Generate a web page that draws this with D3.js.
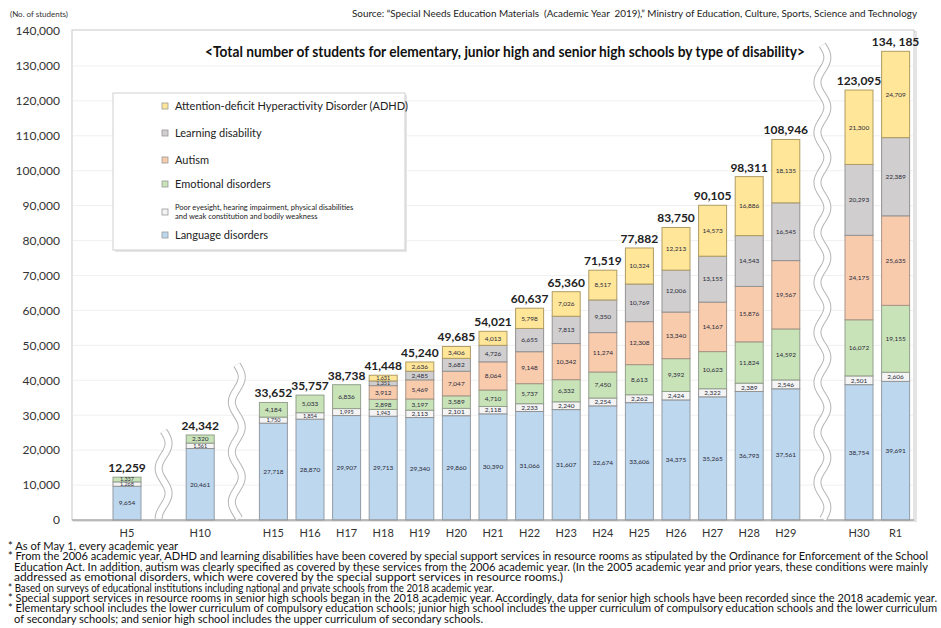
<!DOCTYPE html>
<html><head><meta charset="utf-8">
<script src="https://cdn.jsdelivr.net/npm/d3@7"></script>
<style>body{margin:0;background:#fff} svg{display:block;font-family:Lato,"Open Sans",sans-serif} text{white-space:pre}</style>
</head><body><svg id="c" width="941" height="628"></svg>
<script>
// ---------- data ----------
const years = ["H5","H10","H15","H16","H17","H18","H19","H20","H21","H22","H23","H24","H25","H26","H27","H28","H29","H30","R1"];
const language  = [9654,20461,27718,28870,29907,29713,29340,29860,30390,31066,31607,32674,33606,34375,35265,36793,37561,38754,39691];
const eyesight  = [1268,1561,1750,1854,1995,1943,2113,2101,2118,2233,2240,2254,2262,2424,2322,2389,2546,2501,2606];
const emotional = [1337,2320,4184,5033,6836,2898,3197,3589,4710,5737,6332,7450,8613,9392,10623,11824,14592,16072,19155];
const autism    = [null,null,null,null,null,3912,5469,7047,8064,9148,10342,11274,12308,13340,14167,15876,19567,24175,25635];
const learning  = [null,null,null,null,null,1351,2485,3682,4726,6655,7813,9350,10769,12006,13155,14543,16545,20293,22389];
const adhd      = [null,null,null,null,null,1631,2636,3406,4013,5798,7026,8517,10324,12213,14573,16886,18135,21300,24709];
const totalLabels = ["12,259","24,342","33,652","35,757","38,738","41,448","45,240","49,685","54,021","60,637","65,360","71,519","77,882","83,750","90,105","98,311","108,946","123,095","134, 185"];
const yTicks = [0,10000,20000,30000,40000,50000,60000,70000,80000,90000,100000,110000,120000,130000,140000];
const breaksAfter = ["H5","H10","H29"];
const breakTops = [25500, 44500, 136000];
const seriesNames = {
  adhd:"Attention-deficit Hyperactivity Disorder (ADHD)",
  learning:"Learning disability",
  autism:"Autism",
  emotional:"Emotional disorders",
  eyesight:["Poor eyesight, hearing impairment, physical disabilities","and weak constitution and bodily weakness"],
  language:"Language disorders"
};
const title = "<Total number of students for elementary, junior high and senior high schools by type of disability>";
const source = "Source: \u201CSpecial Needs Education Materials  (Academic Year  2019),\u201D Ministry of Education, Culture, Sports, Science and Technology";
const yUnit = "(No. of students)";
const notes = [
 "* As of May 1, every academic year",
 "* From the 2006 academic year, ADHD and learning disabilities have been covered by special support services in resource rooms as stipulated by the Ordinance for Enforcement of the School",
 "Education Act. In addition, autism was clearly specified as covered by these services from the 2006 academic year. (In the 2005 academic year and prior years, these conditions were mainly",
 "addressed as emotional disorders, which were covered by the special support services in resource rooms.)",
 "* Based on surveys of educational institutions including national and private schools from the 2018 academic year.",
 "* Special support services in resource rooms in senior high schools began in the 2018 academic year. Accordingly, data for senior high schools have been recorded since the 2018 academic year.",
 "* Elementary school includes the lower curriculum of compulsory education schools; junior high school includes the upper curriculum of compulsory education schools and the lower curriculum",
 "of secondary schools; and senior high school includes the upper curriculum of secondary schools."
];

// ---------- setup ----------
const svg = d3.select("#c");
const keys = ["language","eyesight","emotional","autism","learning","adhd"];
const colors = {language:"#bdd7ee",eyesight:"#f4f4f4",emotional:"#c9e3b8",autism:"#f8cbad",learning:"#d0cece",adhd:"#ffe699"};
const strokes = {language:"#939ca6",eyesight:"#939393",emotional:"#93a18d",autism:"#a99385",learning:"#939393",adhd:"#b09c62"};

const rows = years.map((y,i)=>({year:y,language:language[i],eyesight:eyesight[i],emotional:emotional[i],
  autism:autism[i]||0,learning:learning[i]||0,adhd:adhd[i]||0,label:totalLabels[i]}));

const slots = [];
years.forEach(y=>{slots.push(y); if(breaksAfter.includes(y)) slots.push("gap_"+y);});

const x = d3.scaleBand().domain(slots).range([108.7,913.9]).paddingInner(0.235).paddingOuter(0.1175);
const y = d3.scaleLinear().domain([0,140000]).range([520,31]);

// header
svg.append("text").attr("x",10).attr("y",17).attr("font-size",8).attr("fill","#333").text(yUnit);
svg.append("text").attr("x",352).attr("y",17).attr("font-size",10).attr("fill","#222")
  .attr("textLength",565).attr("lengthAdjust","spacingAndGlyphs").text(source);

// frame
svg.append("rect").attr("x",74).attr("y",32).attr("width",842).attr("height",489).attr("fill","none").attr("stroke","#e4e4e4").attr("stroke-width",2);
svg.append("rect").attr("x",72).attr("y",30).attr("width",842).attr("height",490).attr("fill","#fff").attr("stroke","#c8c8c8");

// grid
svg.append("g").selectAll("line").data(yTicks.filter(d=>d>0 && d<140000)).join("line")
  .attr("x1",73).attr("x2",913).attr("y1",d=>y(d)).attr("y2",d=>y(d)).attr("stroke","#f0f0f0");

// title
svg.append("text").attr("x",505).attr("y",57).attr("text-anchor","middle").attr("font-size",15).attr("font-weight","bold")
  .attr("fill","#111").attr("textLength",600).attr("lengthAdjust","spacingAndGlyphs").text(title);

// y axis
const ya = svg.append("g").attr("transform","translate(62,0)")
  .call(d3.axisLeft(y).tickValues(yTicks).tickFormat(d3.format(",")).tickSize(0).tickPadding(2));
ya.select(".domain").remove();
ya.selectAll("text").attr("font-size",12).attr("fill","#333").attr("font-family","Lato,sans-serif");

// stacked bars
const stack = d3.stack().keys(keys)(rows);
const bw = x.bandwidth();
stack.forEach(layer=>{
  const k = layer.key;
  const g = svg.append("g");
  const segs = layer.filter(d=>d.data[k]>0);
  g.selectAll("rect").data(segs).join("rect")
    .attr("x",d=>x(d.data.year)).attr("width",bw)
    .attr("y",d=>y(d[1])).attr("height",d=>y(d[0])-y(d[1]))
    .attr("fill",colors[k]).attr("stroke",strokes[k]).attr("stroke-width",1);
  g.selectAll("text").data(segs).join("text")
    .attr("x",d=>x(d.data.year)+bw/2).attr("y",d=>(y(d[0])+y(d[1]))/2)
    .attr("dy","0.35em").attr("text-anchor","middle")
    .attr("font-size",d=>(y(d[0])-y(d[1]))<7?5.5:6.5).attr("fill","#2a2a3a")
    .text(d=>d3.format(",")(d.data[k]));
});

// totals
svg.append("g").selectAll("text").data(rows).join("text")
  .attr("x",d=>x(d.year)+bw/2).attr("y",d=>y(d3.sum(keys,k=>d[k]))-5)
  .attr("text-anchor","middle").attr("font-size",12).attr("font-weight","bold").attr("fill","#222")
  .text(d=>d.label);

// baseline + x axis
svg.append("line").attr("x1",72).attr("x2",914).attr("y1",520).attr("y2",520).attr("stroke","#999");
const xa = svg.append("g").attr("transform","translate(0,520)")
  .call(d3.axisBottom(x).tickValues(years).tickSize(0).tickPadding(9));
xa.select(".domain").remove();
xa.selectAll("text").attr("font-size",11).attr("fill","#333").attr("font-family","Lato,sans-serif");

// break squiggles
const wave = d3.line().curve(d3.curveBasis);
breaksAfter.forEach((b,i)=>{
  const cx = x("gap_"+b)+bw/2;
  const y0 = y(breakTops[i]), y1 = 520;
  const pts = d3.range(y0,y1+0.1,2).map(yy=>[cx+5*Math.sin((yy-y0)/50*2*Math.PI),yy]);
  svg.append("path").attr("d",wave(pts)).attr("fill","none").attr("stroke","#b5b5b5").attr("stroke-width",8);
  svg.append("path").attr("d",wave(pts)).attr("fill","none").attr("stroke","#fff").attr("stroke-width",6);
});

// legend
const lg = svg.append("g");
lg.append("rect").attr("x",115).attr("y",95).attr("width",292).attr("height",157).attr("fill","#e6e6e6");
lg.append("rect").attr("x",113).attr("y",93).attr("width",292).attr("height",157).attr("fill","#fff").attr("stroke","#cfcfcf");
const legendItems = ["adhd","learning","autism","emotional","eyesight","language"];
const legendY = {adhd:106,learning:133,autism:160,emotional:184,eyesight:212,language:235};
legendItems.forEach(k=>{
  const cy = legendY[k];
  lg.append("rect").attr("x",162).attr("y",cy-3).attr("width",6).attr("height",6)
    .attr("fill",colors[k]).attr("stroke","#999").attr("stroke-width",0.8);
  const name = seriesNames[k];
  if(Array.isArray(name)){
    name.forEach((t,j)=>lg.append("text").attr("x",175).attr("y",cy-2+j*9).attr("font-size",7.5).attr("fill","#222").text(t));
  } else {
    lg.append("text").attr("x",175).attr("y",cy+4).attr("font-size",11).attr("fill","#222").text(name);
  }
});

// footnotes
const noteX = [8,8,14,14,8,8,8,14];
const noteW = [170,920,914,549,486,929,929,469];
notes.forEach((t,i)=>{
  svg.append("text").attr("x",noteX[i]).attr("y",550+i*10.4).attr("font-size",10.5).attr("fill","#111")
    .attr("textLength",noteW[i]).attr("lengthAdjust","spacingAndGlyphs").text(t);
});
</script></body></html>
